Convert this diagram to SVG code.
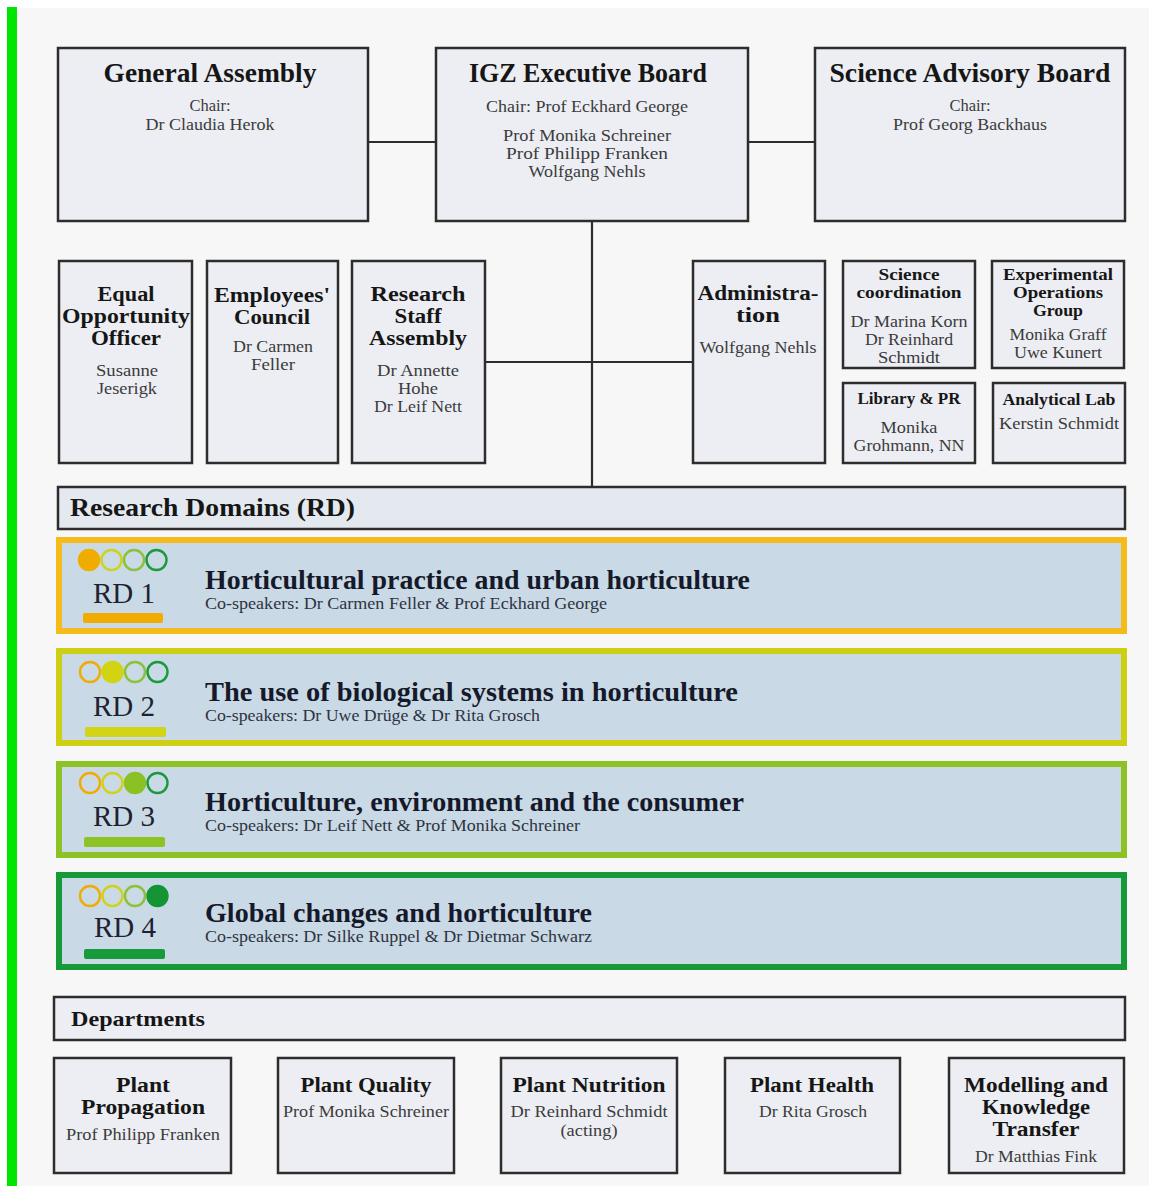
<svg xmlns="http://www.w3.org/2000/svg" width="1149" height="1186" viewBox="0 0 1149 1186">
<style>
text{font-family:"Liberation Serif","DejaVu Serif",serif}
.box{fill:#eceef3;stroke:#2d2d2d;stroke-width:2.5}
.bar{fill:#e4e9f0;stroke:#2d2d2d;stroke-width:2.5}
.t1{font-size:27px;font-weight:bold;fill:#161616;text-anchor:middle}
.t2{font-size:20px;font-weight:bold;fill:#161616;text-anchor:middle}
.t3{font-size:16.5px;font-weight:bold;fill:#161616;text-anchor:middle}
.td{font-size:20px;font-weight:bold;fill:#161616;text-anchor:middle}
.n{font-size:16.5px;fill:#3b3b3b;text-anchor:middle}
.m{font-size:16px;fill:#3b3b3b;text-anchor:middle}
.rdbox{fill:#c9d9e6;stroke-width:6}
.rdt{font-size:27px;font-weight:bold;fill:#15192a}
.rdc{font-size:17px;fill:#2e3340}
.rdn{font-size:29px;fill:#1e2230;text-anchor:middle}
.conn{stroke:#2d2d2d;stroke-width:2.2;fill:none}
.o{fill:none;stroke-width:2.4}
</style>
<rect x="0" y="0" width="1149" height="1186" fill="#ffffff"/>
<rect x="17" y="8" width="1132" height="1178" fill="#f7f7f8"/>
<rect x="7" y="7" width="10" height="1179" fill="#00e600"/>

<g id="connectors">
<line class="conn" x1="368" y1="142" x2="436" y2="142"/>
<line class="conn" x1="748" y1="142" x2="815" y2="142"/>
<line class="conn" x1="592" y1="221" x2="592" y2="487"/>
<line class="conn" x1="485" y1="362" x2="693" y2="362"/>
</g>

<g id="general-assembly">
<rect class="box" x="58" y="48" width="310" height="173"/>
<text class="t1" x="210" y="82" textLength="213" lengthAdjust="spacingAndGlyphs">General Assembly</text>
<text class="n" x="210" y="111">Chair:</text>
<text class="n" x="210" y="130" textLength="129" lengthAdjust="spacingAndGlyphs">Dr Claudia Herok</text>
</g>
<g id="executive-board">
<rect class="box" x="436" y="48" width="312" height="173"/>
<text class="t1" x="588" y="82" textLength="238" lengthAdjust="spacingAndGlyphs">IGZ Executive Board</text>
<text class="n" x="587" y="112" textLength="202" lengthAdjust="spacingAndGlyphs">Chair: Prof Eckhard George</text>
<text class="n" x="587" y="141" textLength="168" lengthAdjust="spacingAndGlyphs">Prof Monika Schreiner</text>
<text class="m" x="587" y="159" textLength="162" lengthAdjust="spacingAndGlyphs">Prof Philipp Franken</text>
<text class="m" x="587" y="177" textLength="117" lengthAdjust="spacingAndGlyphs">Wolfgang Nehls</text>
</g>
<g id="science-advisory-board">
<rect class="box" x="815" y="48" width="310" height="173"/>
<text class="t1" x="970" y="82" textLength="281" lengthAdjust="spacingAndGlyphs">Science Advisory Board</text>
<text class="n" x="970" y="111">Chair:</text>
<text class="n" x="970" y="130" textLength="154" lengthAdjust="spacingAndGlyphs">Prof Georg Backhaus</text>
</g>

<g id="equal-opportunity-officer">
<rect class="box" x="59" y="261" width="133" height="202"/>
<text class="t2" x="126" y="301" textLength="57" lengthAdjust="spacingAndGlyphs">Equal</text>
<text class="t2" x="126" y="323" textLength="128" lengthAdjust="spacingAndGlyphs">Opportunity</text>
<text class="t2" x="126" y="345" textLength="70" lengthAdjust="spacingAndGlyphs">Officer</text>
<text class="m" x="127" y="376" textLength="62" lengthAdjust="spacingAndGlyphs">Susanne</text>
<text class="m" x="127" y="394" textLength="60" lengthAdjust="spacingAndGlyphs">Jeserigk</text>
</g>
<g id="employees-council">
<rect class="box" x="207" y="261" width="131" height="202"/>
<text class="t2" x="272" y="302" textLength="116" lengthAdjust="spacingAndGlyphs">Employees'</text>
<text class="t2" x="272" y="324" textLength="76" lengthAdjust="spacingAndGlyphs">Council</text>
<text class="m" x="273" y="352" textLength="80" lengthAdjust="spacingAndGlyphs">Dr Carmen</text>
<text class="m" x="273" y="370" textLength="44" lengthAdjust="spacingAndGlyphs">Feller</text>
</g>
<g id="research-staff-assembly">
<rect class="box" x="352" y="261" width="133" height="202"/>
<text class="t2" x="418" y="301" textLength="95" lengthAdjust="spacingAndGlyphs">Research</text>
<text class="t2" x="418" y="323" textLength="47" lengthAdjust="spacingAndGlyphs">Staff</text>
<text class="t2" x="418" y="345" textLength="98" lengthAdjust="spacingAndGlyphs">Assembly</text>
<text class="m" x="418" y="376" textLength="82" lengthAdjust="spacingAndGlyphs">Dr Annette</text>
<text class="m" x="418" y="394" textLength="40" lengthAdjust="spacingAndGlyphs">Hohe</text>
<text class="m" x="418" y="412" textLength="88" lengthAdjust="spacingAndGlyphs">Dr Leif Nett</text>
</g>
<g id="administration">
<rect class="box" x="693" y="261" width="132" height="202"/>
<text class="t2" x="758" y="300" textLength="121" lengthAdjust="spacingAndGlyphs">Administra-</text>
<text class="t2" x="758" y="322" textLength="44" lengthAdjust="spacingAndGlyphs">tion</text>
<text class="m" x="758" y="353" textLength="117" lengthAdjust="spacingAndGlyphs">Wolfgang Nehls</text>
</g>
<g id="science-coordination">
<rect class="box" x="843" y="261" width="132" height="107"/>
<text class="t3" x="909" y="280" textLength="61" lengthAdjust="spacingAndGlyphs">Science</text>
<text class="t3" x="909" y="298" textLength="105" lengthAdjust="spacingAndGlyphs">coordination</text>
<text class="m" x="909" y="327" textLength="117" lengthAdjust="spacingAndGlyphs">Dr Marina Korn</text>
<text class="m" x="909" y="345" textLength="88" lengthAdjust="spacingAndGlyphs">Dr Reinhard</text>
<text class="m" x="909" y="363" textLength="62" lengthAdjust="spacingAndGlyphs">Schmidt</text>
</g>
<g id="experimental-operations-group">
<rect class="box" x="992" y="261" width="132" height="107"/>
<text class="t3" x="1058" y="280" textLength="110" lengthAdjust="spacingAndGlyphs">Experimental</text>
<text class="t3" x="1058" y="298" textLength="90" lengthAdjust="spacingAndGlyphs">Operations</text>
<text class="t3" x="1058" y="316" textLength="50" lengthAdjust="spacingAndGlyphs">Group</text>
<text class="m" x="1058" y="340" textLength="97" lengthAdjust="spacingAndGlyphs">Monika Graff</text>
<text class="m" x="1058" y="358" textLength="88" lengthAdjust="spacingAndGlyphs">Uwe Kunert</text>
</g>
<g id="library-pr">
<rect class="box" x="843" y="383" width="132" height="80"/>
<text class="t3" x="909" y="404" textLength="103" lengthAdjust="spacingAndGlyphs">Library &amp; PR</text>
<text class="m" x="909" y="433" textLength="57" lengthAdjust="spacingAndGlyphs">Monika</text>
<text class="m" x="909" y="451" textLength="111" lengthAdjust="spacingAndGlyphs">Grohmann, NN</text>
</g>
<g id="analytical-lab">
<rect class="box" x="993" y="383" width="132" height="80"/>
<text class="t3" x="1059" y="405" textLength="113" lengthAdjust="spacingAndGlyphs">Analytical Lab</text>
<text class="m" x="1059" y="429" textLength="120" lengthAdjust="spacingAndGlyphs">Kerstin Schmidt</text>
</g>

<g id="research-domains">
<rect class="bar" x="58" y="487" width="1067" height="42"/>
<text x="70" y="516" font-size="26" font-weight="bold" fill="#161616" textLength="285" lengthAdjust="spacingAndGlyphs">Research Domains (RD)</text>
</g>

<g id="rd1">
<rect class="rdbox" x="59" y="540" width="1065" height="91" stroke="#f5bb1c"/>
<circle cx="89" cy="560" r="10" fill="#f0ac00" stroke="#f0ac00" stroke-width="2.4"/>
<circle class="o" cx="111.5" cy="560" r="10" stroke="#cfd21c"/>
<circle class="o" cx="134" cy="560" r="10" stroke="#8cc13a"/>
<circle class="o" cx="156.5" cy="560" r="10" stroke="#1a9b3b"/>
<text class="rdn" x="124" y="603">RD 1</text>
<rect x="83" y="613" width="80" height="10" rx="2" fill="#f0ac00"/>
<text class="rdt" x="205" y="589" textLength="545" lengthAdjust="spacingAndGlyphs">Horticultural practice and urban horticulture</text>
<text class="rdc" x="205" y="609" textLength="402" lengthAdjust="spacingAndGlyphs">Co-speakers: Dr Carmen Feller &amp; Prof Eckhard George</text>
</g>
<g id="rd2">
<rect class="rdbox" x="59" y="651" width="1065" height="92" stroke="#cdd012"/>
<circle class="o" cx="90" cy="672" r="10" stroke="#f0ac00"/>
<circle cx="112.5" cy="672" r="10" fill="#d2d313" stroke="#d2d313" stroke-width="2.4"/>
<circle class="o" cx="135" cy="672" r="10" stroke="#8cc13a"/>
<circle class="o" cx="157.5" cy="672" r="10" stroke="#1a9b3b"/>
<text class="rdn" x="124" y="716">RD 2</text>
<rect x="85" y="727" width="81" height="10" rx="2" fill="#d4d416"/>
<text class="rdt" x="205" y="701" textLength="533" lengthAdjust="spacingAndGlyphs">The use of biological systems in horticulture</text>
<text class="rdc" x="205" y="721" textLength="335" lengthAdjust="spacingAndGlyphs">Co-speakers: Dr Uwe Drüge &amp; Dr Rita Grosch</text>
</g>
<g id="rd3">
<rect class="rdbox" x="59" y="764" width="1065" height="91" stroke="#8dc225"/>
<circle class="o" cx="90" cy="783" r="10" stroke="#f0ac00"/>
<circle class="o" cx="112.5" cy="783" r="10" stroke="#cfd21c"/>
<circle cx="135" cy="783" r="10" fill="#8cc125" stroke="#8cc125" stroke-width="2.4"/>
<circle class="o" cx="157.5" cy="783" r="10" stroke="#1a9b3b"/>
<text class="rdn" x="124" y="826">RD 3</text>
<rect x="84" y="837" width="81" height="10" rx="2" fill="#8cc425"/>
<text class="rdt" x="205" y="811" textLength="539" lengthAdjust="spacingAndGlyphs">Horticulture, environment and the consumer</text>
<text class="rdc" x="205" y="831" textLength="375" lengthAdjust="spacingAndGlyphs">Co-speakers: Dr Leif Nett &amp; Prof Monika Schreiner</text>
</g>
<g id="rd4">
<rect class="rdbox" x="59" y="875" width="1065" height="92" stroke="#169a37"/>
<circle class="o" cx="90" cy="896" r="10" stroke="#f0ac00"/>
<circle class="o" cx="112.5" cy="896" r="10" stroke="#cfd21c"/>
<circle class="o" cx="135" cy="896" r="10" stroke="#8cc13a"/>
<circle cx="157.5" cy="896" r="10" fill="#139535" stroke="#139535" stroke-width="2.4"/>
<text class="rdn" x="125" y="937">RD 4</text>
<rect x="84" y="949" width="81" height="10" rx="2" fill="#189a3a"/>
<text class="rdt" x="205" y="922" textLength="387" lengthAdjust="spacingAndGlyphs">Global changes and horticulture</text>
<text class="rdc" x="205" y="942" textLength="387" lengthAdjust="spacingAndGlyphs">Co-speakers: Dr Silke Ruppel &amp; Dr Dietmar Schwarz</text>
</g>

<g id="departments">
<rect class="box" x="54" y="997" width="1071" height="43"/>
<text x="71" y="1026" font-size="21" font-weight="bold" fill="#161616" textLength="134" lengthAdjust="spacingAndGlyphs">Departments</text>
</g>
<g id="plant-propagation">
<rect class="box" x="54" y="1058" width="177" height="115"/>
<text class="td" x="143" y="1092" textLength="54" lengthAdjust="spacingAndGlyphs">Plant</text>
<text class="td" x="143" y="1114" textLength="124" lengthAdjust="spacingAndGlyphs">Propagation</text>
<text class="m" x="143" y="1140" textLength="154" lengthAdjust="spacingAndGlyphs">Prof Philipp Franken</text>
</g>
<g id="plant-quality">
<rect class="box" x="278" y="1058" width="176" height="115"/>
<text class="td" x="366" y="1092" textLength="131" lengthAdjust="spacingAndGlyphs">Plant Quality</text>
<text class="m" x="366" y="1117" textLength="166" lengthAdjust="spacingAndGlyphs">Prof Monika Schreiner</text>
</g>
<g id="plant-nutrition">
<rect class="box" x="501" y="1058" width="176" height="115"/>
<text class="td" x="589" y="1092" textLength="153" lengthAdjust="spacingAndGlyphs">Plant Nutrition</text>
<text class="m" x="589" y="1117" textLength="157" lengthAdjust="spacingAndGlyphs">Dr Reinhard Schmidt</text>
<text class="m" x="589" y="1136" textLength="57" lengthAdjust="spacingAndGlyphs">(acting)</text>
</g>
<g id="plant-health">
<rect class="box" x="725" y="1058" width="175" height="115"/>
<text class="td" x="812" y="1092" textLength="124" lengthAdjust="spacingAndGlyphs">Plant Health</text>
<text class="m" x="813" y="1117" textLength="108" lengthAdjust="spacingAndGlyphs">Dr Rita Grosch</text>
</g>
<g id="modelling-knowledge-transfer">
<rect class="box" x="949" y="1058" width="175" height="115"/>
<text class="td" x="1036" y="1092" textLength="144" lengthAdjust="spacingAndGlyphs">Modelling and</text>
<text class="td" x="1036" y="1114" textLength="108" lengthAdjust="spacingAndGlyphs">Knowledge</text>
<text class="td" x="1036" y="1136" textLength="87" lengthAdjust="spacingAndGlyphs">Transfer</text>
<text class="m" x="1036" y="1162" textLength="122" lengthAdjust="spacingAndGlyphs">Dr Matthias Fink</text>
</g>
</svg>
